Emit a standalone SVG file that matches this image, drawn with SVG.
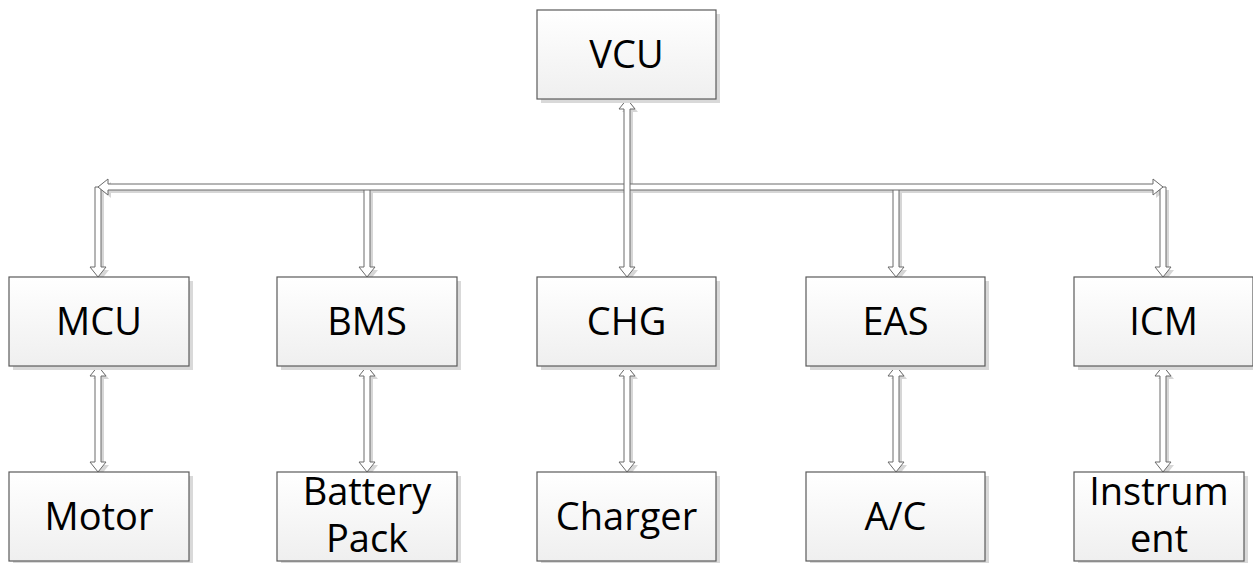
<svg xmlns="http://www.w3.org/2000/svg" width="1253" height="563" viewBox="0 0 1253 563">
<defs>
<linearGradient id="bg" x1="0" y1="0" x2="0" y2="1">
<stop offset="0" stop-color="#ffffff"/>
<stop offset="1" stop-color="#efefef"/>
</linearGradient>
<style>
.box{fill:url(#bg);stroke:#5a5a5a;stroke-width:1.2}
.shd{fill:#d9d9d9}
.t{font-family:"Open Sans","Liberation Sans",sans-serif;font-size:38px;fill:#000;text-anchor:middle}
.ar{fill:#fff;stroke:#6a6a6a;stroke-width:1}
.as{fill:#d6d6d6}
</style>
</defs>
<rect width="1253" height="563" fill="#fff"/>

<g id="connectors">
<g class="as" transform="translate(3,3)">
<polygon points="95,187 101,187 101,267 106,267 98,277 90,267 95,267"/>
<polygon points="364,187 370,187 370,267 375,267 367,277 359,267 364,267"/>
<polygon points="893,187 899,187 899,267 904,267 896,277 888,267 893,267"/>
<polygon points="1160,187 1166,187 1166,267 1171,267 1163,277 1155,267 1160,267"/>
<polygon points="98,187 108,179 108,184 1153,184 1153,179 1163,187 1153,195 1153,190 108,190 108,195"/>
<polygon points="627,99 635,109 630,109 630,267 635,267 627,277 619,267 624,267 624,109 619,109"/>
<polygon points="98,366 106,376 101,376 101,462 106,462 98,472 90,462 95,462 95,376 90,376"/>
<polygon points="367,366 375,376 370,376 370,462 375,462 367,472 359,462 364,462 364,376 359,376"/>
<polygon points="627,366 635,376 630,376 630,462 635,462 627,472 619,462 624,462 624,376 619,376"/>
<polygon points="896,366 904,376 899,376 899,462 904,462 896,472 888,462 893,462 893,376 888,376"/>
<polygon points="1163,366 1171,376 1166,376 1166,462 1171,462 1163,472 1155,462 1160,462 1160,376 1155,376"/>
</g>
<polygon class="ar" points="95,187 101,187 101,267 106,267 98,277 90,267 95,267"/>
<polygon class="ar" points="364,187 370,187 370,267 375,267 367,277 359,267 364,267"/>
<polygon class="ar" points="893,187 899,187 899,267 904,267 896,277 888,267 893,267"/>
<polygon class="ar" points="1160,187 1166,187 1166,267 1171,267 1163,277 1155,267 1160,267"/>
<polygon class="ar" points="98,187 108,179 108,184 1153,184 1153,179 1163,187 1153,195 1153,190 108,190 108,195"/>
<polygon class="ar" points="627,99 635,109 630,109 630,267 635,267 627,277 619,267 624,267 624,109 619,109"/>
<polygon class="ar" points="98,366 106,376 101,376 101,462 106,462 98,472 90,462 95,462 95,376 90,376"/>
<polygon class="ar" points="367,366 375,376 370,376 370,462 375,462 367,472 359,462 364,462 364,376 359,376"/>
<polygon class="ar" points="627,366 635,376 630,376 630,462 635,462 627,472 619,462 624,462 624,376 619,376"/>
<polygon class="ar" points="896,366 904,376 899,376 899,462 904,462 896,472 888,462 893,462 893,376 888,376"/>
<polygon class="ar" points="1163,366 1171,376 1166,376 1166,462 1171,462 1163,472 1155,462 1160,462 1160,376 1155,376"/>
</g>

<g id="vcu"><rect class="shd" x="541" y="14" width="179" height="89"/><rect class="box" x="537" y="10" width="179" height="89"/><text class="t" x="626.5" y="68">VCU</text></g>

<g id="mcu"><rect class="shd" x="13" y="281" width="180" height="89"/><rect class="box" x="9" y="277" width="180" height="89"/><text class="t" x="99" y="335">MCU</text></g>
<g id="bms"><rect class="shd" x="281" y="281" width="180" height="89"/><rect class="box" x="277" y="277" width="180" height="89"/><text class="t" x="367" y="335">BMS</text></g>
<g id="chg"><rect class="shd" x="541" y="281" width="179" height="89"/><rect class="box" x="537" y="277" width="179" height="89"/><text class="t" x="626.5" y="335">CHG</text></g>
<g id="eas"><rect class="shd" x="810" y="281" width="179" height="89"/><rect class="box" x="806" y="277" width="179" height="89"/><text class="t" x="895.5" y="335">EAS</text></g>
<g id="icm"><rect class="shd" x="1078" y="281" width="179" height="89"/><rect class="box" x="1074" y="277" width="179" height="89"/><text class="t" x="1163.5" y="335">ICM</text></g>

<g id="motor"><rect class="shd" x="13" y="476" width="180" height="89"/><rect class="box" x="9" y="472" width="180" height="89"/><text class="t" x="99" y="530">Motor</text></g>
<g id="battery"><rect class="shd" x="281" y="476" width="180" height="89"/><rect class="box" x="277" y="472" width="180" height="89"/><text class="t" x="367" y="505">Battery</text><text class="t" x="367" y="552">Pack</text></g>
<g id="charger"><rect class="shd" x="541" y="476" width="179" height="89"/><rect class="box" x="537" y="472" width="179" height="89"/><text class="t" x="626.5" y="530">Charger</text></g>
<g id="ac"><rect class="shd" x="810" y="476" width="179" height="89"/><rect class="box" x="806" y="472" width="179" height="89"/><text class="t" x="895.5" y="530">A/C</text></g>
<g id="instrument"><rect class="shd" x="1078" y="476" width="170" height="89"/><rect class="box" x="1074" y="472" width="170" height="89"/><text class="t" x="1159" y="505">Instrum</text><text class="t" x="1159" y="552">ent</text></g>
</svg>
